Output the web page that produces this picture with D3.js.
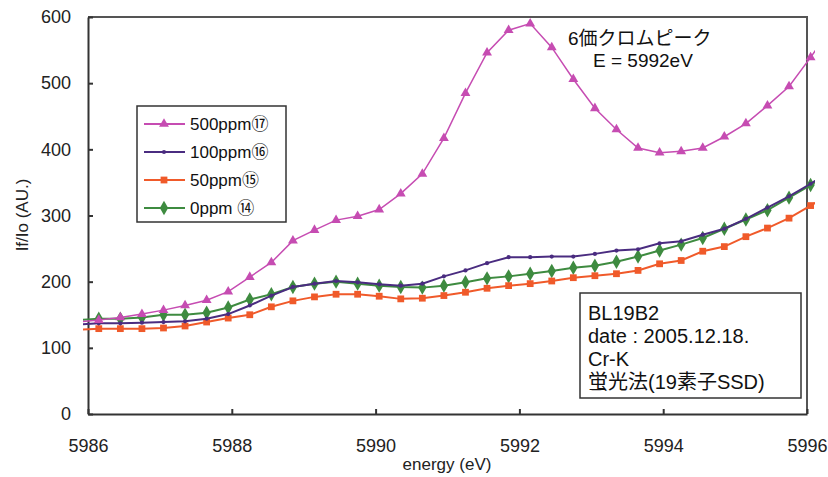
<!DOCTYPE html>
<html>
<head>
<meta charset="utf-8">
<script src="https://cdn.jsdelivr.net/npm/d3@7"></script>
<style>
  body { margin: 0; background: #fff; }
  svg { font-family: "Liberation Sans", Arial, "Noto Sans CJK JP", sans-serif; }
  .axis path, .axis line { stroke: #333; }
  .axis text { fill: #222; }
</style>
</head>
<body>
<div id="graph"></div>
<script>
// energy points (eV)
const energy = [5985.85, 5986.15, 5986.45, 5986.75, 5987.05, 5987.35, 5987.65, 5987.95, 5988.25, 5988.55,
  5988.85, 5989.15, 5989.45, 5989.75, 5990.05, 5990.35, 5990.65, 5990.95, 5991.25, 5991.55,
  5991.85, 5992.15, 5992.45, 5992.75, 5993.05, 5993.35, 5993.65, 5993.95, 5994.25, 5994.55,
  5994.85, 5995.15, 5995.45, 5995.75, 5996.05, 5996.35];

const ppm500 = [139, 142, 146, 151, 157, 164, 172, 185, 207, 229, 262, 278, 293, 299, 309, 333, 363,
  417, 485, 546, 580, 590, 554, 506, 462, 430, 402, 395, 397, 402, 419, 439, 466, 495, 539, 585];
const ppm100 = [135, 137, 137, 138, 139, 140, 144, 151, 164, 179, 192, 197, 201, 199, 196, 194, 197,
  208, 217, 228, 237, 237, 238, 238, 242, 247, 249, 258, 261, 271, 280, 295, 312, 329, 348, 368];
const ppm50 = [127, 129, 129, 129, 130, 133, 139, 145, 150, 162, 171, 177, 181, 181, 178, 174, 175,
  179, 184, 190, 194, 197, 201, 206, 209, 212, 217, 227, 232, 246, 253, 268, 281, 296, 315, 334];
const ppm0 = [142, 144, 144, 146, 150, 150, 153, 161, 173, 181, 192, 197, 200, 197, 194, 192, 191,
  194, 199, 205, 208, 212, 216, 221, 224, 230, 238, 247, 256, 266, 280, 294, 308, 327, 346, 366];

const seriesNames = ["500ppm\u2470", "100ppm\u246F", "50ppm\u246E", "0ppm \u246D"];
const xTicks = [5986, 5988, 5990, 5992, 5994, 5996];
const yTicks = [0, 100, 200, 300, 400, 500, 600];

const svgWidth = 828, svgHeight = 477;
const plot = { left: 88, right: 807, top: 17, bottom: 414 };

const svg = d3.select("#graph").append("svg")
  .attr("width", svgWidth)
  .attr("height", svgHeight);

const x = d3.scaleLinear().domain([5986, 5996]).range([plot.left, plot.right]);
const y = d3.scaleLinear().domain([0, 600]).range([plot.bottom, plot.top]);

// frame (top and right)
svg.append("path")
  .attr("d", `M${plot.left},${plot.top}H${plot.right}V${plot.bottom}`)
  .attr("fill", "none").attr("stroke", "#555").attr("stroke-width", 2);

// axes
svg.append("g").attr("class", "axis")
  .attr("transform", `translate(${plot.left},0)`)
  .call(d3.axisLeft(y).tickValues(yTicks).tickSizeInner(-5).tickSizeOuter(0).tickPadding(17))
  .call(g => g.selectAll("path,line").attr("stroke-width", 2))
  .call(g => g.selectAll("text").attr("font-size", 18));

svg.append("g").attr("class", "axis")
  .attr("transform", `translate(0,${plot.bottom})`)
  .call(d3.axisBottom(x).tickValues(xTicks).tickFormat(d3.format("d")).tickSizeInner(-5).tickSizeOuter(0).tickPadding(25))
  .call(g => g.selectAll("path,line").attr("stroke-width", 2))
  .call(g => g.selectAll("text").attr("font-size", 18));

svg.append("text")
  .attr("x", 447).attr("y", 470)
  .attr("text-anchor", "middle").attr("font-size", 17).attr("fill", "#222")
  .text("energy (eV)");

svg.append("text")
  .attr("transform", "translate(28,215) rotate(-90)")
  .attr("text-anchor", "middle").attr("font-size", 17).attr("fill", "#222")
  .text("If/Io (AU.)");

// series
const series = [
  { name: seriesNames[0], values: ppm500, color: "#c64cb2", symbol: d3.symbolTriangle, size: 42, width: 1.5 },
  { name: seriesNames[1], values: ppm100, color: "#4a2c80", symbol: d3.symbolCircle, size: 14, width: 2 },
  { name: seriesNames[2], values: ppm50, color: "#f05a2a", symbol: d3.symbolSquare, size: 46, width: 2 },
  { name: seriesNames[3], values: ppm0, color: "#3e8b40", symbol: d3.symbolDiamond, size: 60, width: 2 }
];

svg.append("clipPath").attr("id", "clip")
  .append("rect").attr("x", 83).attr("y", 0).attr("width", 815 - 83).attr("height", svgHeight);

const line = d3.line()
  .x((d, i) => x(energy[i]))
  .y(d => y(d));

// draw in reverse so 500ppm is on top
series.slice().reverse().forEach(s => {
  svg.append("path")
    .attr("clip-path", "url(#clip)")
    .attr("d", line(s.values))
    .attr("fill", "none")
    .attr("stroke", s.color)
    .attr("stroke-width", s.width);

  svg.append("g").selectAll("path")
    .data(s.values.map((v, i) => [energy[i], v]).filter(d => d[0] >= 5986 && d[0] <= 5996.1))
    .join("path")
    .attr("transform", d => `translate(${x(d[0])},${y(d[1])})`)
    .attr("d", d3.symbol().type(s.symbol).size(s.size))
    .attr("fill", s.color);
});

// legend
const legend = svg.append("g");
legend.append("rect")
  .attr("x", 137).attr("y", 106).attr("width", 149).attr("height", 116)
  .attr("fill", "#fff").attr("stroke", "#333").attr("stroke-width", 1.5);

series.forEach((s, i) => {
  const ly = 124 + i * 28;
  legend.append("line")
    .attr("x1", 144).attr("x2", 185).attr("y1", ly).attr("y2", ly)
    .attr("stroke", s.color).attr("stroke-width", 2);
  legend.append("path")
    .attr("transform", `translate(164,${ly})`)
    .attr("d", d3.symbol().type(s.symbol).size(s.size))
    .attr("fill", s.color);
  legend.append("text")
    .attr("x", 190).attr("y", ly + 6)
    .attr("font-size", 17).attr("fill", "#111")
    .text(s.name);
});

// peak annotation
const peakNote = ["6価クロムピーク", "E = 5992eV"];
svg.append("text").attr("x", 568).attr("y", 45)
  .attr("font-size", 19).attr("fill", "#111").text(peakNote[0]);
svg.append("text").attr("x", 593).attr("y", 67)
  .attr("font-size", 19).attr("fill", "#111").text(peakNote[1]);

// info box
const info = ["BL19B2", "date : 2005.12.18.", "Cr-K", "蛍光法(19素子SSD)"];
svg.append("rect")
  .attr("x", 580).attr("y", 293).attr("width", 221).attr("height", 105)
  .attr("fill", "#fff").attr("stroke", "#333").attr("stroke-width", 1.5);
info.forEach((t, i) => {
  svg.append("text")
    .attr("x", 588).attr("y", 320 + i * 23)
    .attr("font-size", 20).attr("fill", "#111")
    .text(t);
});
</script>
</body>
</html>
